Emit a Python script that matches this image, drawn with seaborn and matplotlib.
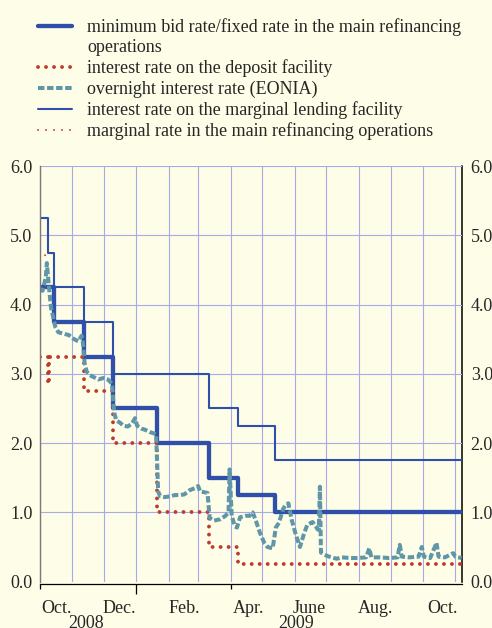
import pandas as pd
import matplotlib
matplotlib.use('Agg')
import matplotlib.pyplot as plt
import matplotlib.dates as mdates
from matplotlib.lines import Line2D
from matplotlib.ticker import FixedLocator, FixedFormatter, NullFormatter, FormatStrFormatter
import seaborn as sns

# ----- policy rates (step changes) -----
mro_dates = ['2008-10-01', '2008-10-15', '2008-11-12', '2008-12-10', '2009-01-21',
             '2009-03-11', '2009-04-08', '2009-05-13', '2009-11-07']
mro_rates = [4.25, 3.75, 3.25, 2.50, 2.00, 1.50, 1.25, 1.00, 1.00]

dep_dates = ['2008-10-01', '2008-10-09', '2008-10-10', '2008-11-12', '2008-12-10',
             '2009-01-21', '2009-03-11', '2009-04-08', '2009-11-07']
dep_rates = [3.25, 2.85, 3.25, 2.75, 2.00, 1.00, 0.50, 0.25, 0.25]

mlf_dates = ['2008-10-01', '2008-10-09', '2008-10-15', '2008-11-12', '2008-12-10',
             '2009-03-11', '2009-04-08', '2009-05-13', '2009-11-07']
mlf_rates = [5.25, 4.75, 4.25, 3.75, 3.00, 2.50, 2.25, 1.75, 1.75]

marg_dates = ['2008-10-01', '2008-10-05', '2008-10-09']
marg_rates = [4.63, 4.70, 4.74]

# ----- overnight rate -----
eonia_dates = [
    '2008-10-01', '2008-10-04', '2008-10-07', '2008-10-08', '2008-10-10', '2008-10-12',
    '2008-10-14', '2008-10-16', '2008-10-19', '2008-10-24', '2008-10-29', '2008-11-03',
    '2008-11-07', '2008-11-10', '2008-11-11', '2008-11-13', '2008-11-15', '2008-11-18',
    '2008-11-22', '2008-11-26', '2008-12-01', '2008-12-05', '2008-12-09', '2008-12-11',
    '2008-12-13', '2008-12-17', '2008-12-20', '2008-12-24', '2008-12-28', '2008-12-31',
    '2009-01-02', '2009-01-06', '2009-01-10', '2009-01-14', '2009-01-20', '2009-01-22',
    '2009-01-24', '2009-01-28', '2009-02-02', '2009-02-07', '2009-02-12', '2009-02-16',
    '2009-02-21', '2009-02-26', '2009-03-01', '2009-03-03', '2009-03-07', '2009-03-10',
    '2009-03-12', '2009-03-16', '2009-03-22', '2009-03-27', '2009-03-30', '2009-03-31',
    '2009-04-02', '2009-04-05', '2009-04-07', '2009-04-10', '2009-04-15', '2009-04-19',
    '2009-04-22', '2009-04-25', '2009-04-29', '2009-05-03', '2009-05-06', '2009-05-11',
    '2009-05-14', '2009-05-17', '2009-05-21', '2009-05-24', '2009-05-26', '2009-05-29',
    '2009-06-02', '2009-06-06', '2009-06-10', '2009-06-13', '2009-06-18', '2009-06-21',
    '2009-06-23', '2009-06-24', '2009-06-25', '2009-06-26', '2009-06-28', '2009-07-02',
    '2009-07-06', '2009-07-11', '2009-07-16', '2009-07-24', '2009-07-31', '2009-08-08',
    '2009-08-11', '2009-08-13', '2009-08-21', '2009-08-30', '2009-09-07', '2009-09-09',
    '2009-09-11', '2009-09-18', '2009-09-27', '2009-09-30', '2009-10-02', '2009-10-08',
    '2009-10-14', '2009-10-16', '2009-10-22', '2009-10-30', '2009-11-01', '2009-11-07']
eonia_rates = [
    4.22, 4.20, 4.40, 4.60, 4.25, 3.95,
    3.82, 3.68, 3.60, 3.58, 3.56, 3.50,
    3.47, 3.55, 3.50, 3.15, 3.03, 2.98,
    2.95, 2.92, 2.94, 2.92, 2.86, 2.45,
    2.33, 2.29, 2.25, 2.24, 2.28, 2.36,
    2.25, 2.21, 2.19, 2.16, 2.13, 1.30,
    1.23, 1.22, 1.23, 1.25, 1.25, 1.26,
    1.32, 1.35, 1.38, 1.30, 1.29, 1.28,
    0.92, 0.88, 0.90, 0.95, 1.00, 1.62,
    0.95, 0.80, 0.78, 0.93, 0.95, 0.95,
    1.00, 0.88, 0.70, 0.56, 0.50, 0.48,
    0.78, 0.85, 1.05, 1.12, 1.13, 0.90,
    0.68, 0.50, 0.70, 0.82, 0.86, 0.80,
    0.75, 0.76, 1.37, 0.42, 0.40, 0.37,
    0.35, 0.33, 0.35, 0.34, 0.34, 0.35,
    0.48, 0.35, 0.35, 0.34, 0.35, 0.53,
    0.36, 0.35, 0.36, 0.50, 0.36, 0.34,
    0.56, 0.36, 0.35, 0.41, 0.36, 0.34]

labels = ['minimum bid rate/fixed rate in the main refinancing',
          'operations',
          'interest rate on the deposit facility',
          'overnight interest rate (EONIA)',
          'interest rate on the marginal lending facility',
          'marginal rate in the main refinancing operations']

# axis text
month_starts = pd.date_range('2008-10-01', '2009-11-01', freq='MS')
month_label_dates = ['2008-10-17', '2008-12-16', '2009-02-16', '2009-04-18',
                     '2009-06-15', '2009-08-17', '2009-10-20']
month_labels = ['Oct.', 'Dec.', 'Feb.', 'Apr.', 'June', 'Aug.', 'Oct.']
year_label_dates = ['2008-11-14', '2009-06-02']
year_labels = ['2008', '2009']
y_ticks = [0, 1, 2, 3, 4, 5, 6]


def num(d):
    return mdates.date2num(pd.to_datetime(d))


# ======================
# STYLE
# ======================
sns.set_style('white')
plt.rcParams['font.family'] = ['Liberation Serif', 'DejaVu Serif']
plt.rcParams['font.size'] = 13

bg = '#FEFDE8'
blue = '#2F4FA8'
red = '#BF3A2E'
teal = '#5F96A8'
grid = '#A6ABE8'

fig = plt.figure(figsize=(4.92, 6.28), dpi=100, facecolor=bg)
ax = fig.add_axes([0.0803, 0.0739, 0.8581, 0.6621], facecolor=bg)

# ======================
# LINES
# ======================
sns.lineplot(x=num(mlf_dates), y=mlf_rates, ax=ax, drawstyle='steps-post',
             color=blue, linewidth=1.5, label=labels[4])
sns.lineplot(x=num(mro_dates), y=mro_rates, ax=ax, drawstyle='steps-post',
             color=blue, linewidth=3.1, label=labels[0])
sns.lineplot(x=num(dep_dates), y=dep_rates, ax=ax, drawstyle='steps-post',
             color=red, linewidth=2.8, linestyle=(0, (0.01, 2.05)),
             dash_capstyle='round', label=labels[2])
sns.lineplot(x=num(eonia_dates), y=eonia_rates, ax=ax, color=teal,
             linewidth=2.9, linestyle=(0, (1.6, 0.65)), label=labels[3])
sns.lineplot(x=num(marg_dates), y=marg_rates, ax=ax, color=red,
             linewidth=1.4, linestyle=(0, (0.01, 4.1)),
             dash_capstyle='round', label=labels[5])

if ax.get_legend() is not None:
    ax.get_legend().remove()

lines = {l.get_label(): l for l in ax.lines}
handles = [lines[labels[0]], Line2D([], [], color='none'), lines[labels[2]],
           lines[labels[3]], lines[labels[4]], lines[labels[5]]]
fig.legend(handles, labels, loc='upper left', bbox_to_anchor=(0.0772, 0.971),
           frameon=False, handlelength=1.88, handletextpad=0.83,
           labelspacing=0.18, borderpad=0, borderaxespad=0, fontsize=13)

# ======================
# AXES
# ======================
ax.set_xlim(num('2008-10-01'), num('2009-11-07'))
ax.set_ylim(0, 6.005)
ax.set_xlabel('')
ax.set_ylabel('')

ax.xaxis.set_major_locator(FixedLocator(num(month_starts)))
ax.xaxis.set_major_formatter(NullFormatter())
ax.xaxis.set_minor_locator(FixedLocator(num(month_label_dates)))
ax.xaxis.set_minor_formatter(FixedFormatter(month_labels))
ax.tick_params(axis='x', which='major', length=1.6, width=0.9, color='black',
               direction='out')
ax.tick_params(axis='x', which='minor', length=0, pad=11.6, labelsize=13)

ax.set_yticks(y_ticks)
ax.yaxis.set_major_formatter(FormatStrFormatter('%.1f'))
ax.tick_params(axis='y', length=1.5, width=0.9, direction='in', pad=5.2,
               labelsize=13, color='#333333')

ax.grid(True, which='major', color=grid, linewidth=0.8)
ax.set_axisbelow(True)
ax.yaxis.get_major_ticks()[0].gridline.set_visible(False)

ax.spines['top'].set_visible(False)
ax.spines['right'].set_visible(False)
ax.spines['left'].set_color('#7A7A7A')
ax.spines['left'].set_linewidth(1.0)
ax.spines['bottom'].set_color('black')
ax.spines['bottom'].set_linewidth(0.9)
ax.spines['bottom'].set_position(('outward', 1.7))

# quarter / year ticks
sec_x = ax.secondary_xaxis('bottom')
sec_x.spines['bottom'].set_position(('outward', 1.7))
sec_x.spines['bottom'].set_visible(False)
sec_x.xaxis.set_major_locator(FixedLocator([num('2009-01-01')]))
sec_x.xaxis.set_minor_locator(FixedLocator([num('2008-10-01'), num('2009-04-01')]))
sec_x.xaxis.set_major_formatter(NullFormatter())
sec_x.xaxis.set_minor_formatter(NullFormatter())
sec_x.tick_params(which='major', length=7.2, width=0.9, color='black')
sec_x.tick_params(which='minor', length=3.6, width=0.9, color='black')

# right-hand scale
sec_y = ax.secondary_yaxis('right')
sec_y.set_yticks(y_ticks)
sec_y.yaxis.set_major_formatter(FormatStrFormatter('%.1f'))
sec_y.tick_params(length=0, pad=6.5, labelsize=13)
sec_y.spines['right'].set_color('black')
sec_y.spines['right'].set_linewidth(1.1)

for d, t in zip(year_label_dates, year_labels):
    ax.annotate(t, xy=(num(d), 0), xycoords=('data', 'axes fraction'),
                xytext=(0, -24), textcoords='offset points',
                ha='center', va='top', fontsize=13, annotation_clip=False)

fig.savefig('out.png', dpi=100, facecolor=bg)
